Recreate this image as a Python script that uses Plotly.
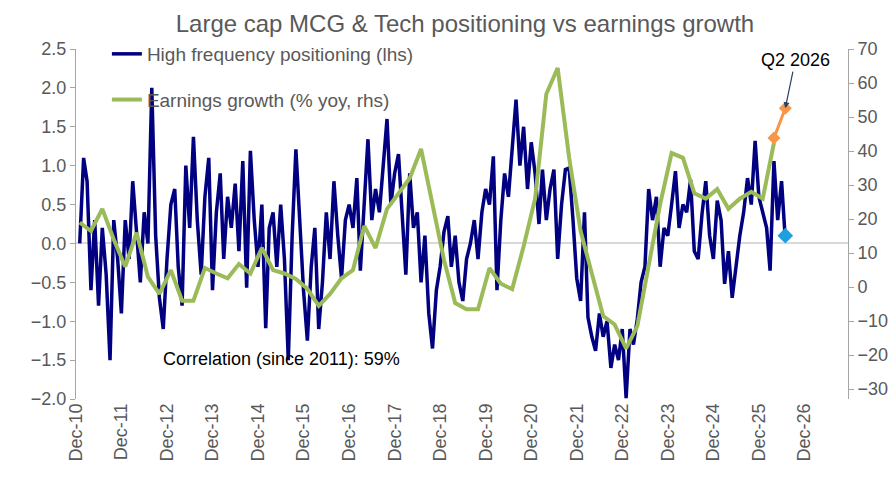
import pandas as pd
import plotly.graph_objects as go

# high frequency positioning, monthly, Dec-10 .. Jun-26
positioning = [
    0.0,
    1.1, 0.8, -0.6, 0.3, -0.8, 0.2, -0.4, -1.5, 0.3, -0.2, -0.9, 0.3,
    -0.2, 0.8, 0.2, -0.5, 0.4, 0.0, 2.0, 0.1, -0.7, -1.1, -0.2, 0.5,
    0.7, -0.3, -0.8, 1.0, 0.2, 1.37, 0.3, -0.4, 0.6, 1.1, -0.6, 0.4,
    0.9, -0.2, 0.6, 0.2, 0.77, -0.1, 1.06, -0.57, 1.19, 0.3, -0.3, 0.5,
    -1.09, 0.2, 0.4, -0.3, 0.5, -0.2, -1.5, 0.1, 1.21, 0.3, -0.6, -1.25,
    -0.3, 0.2, -1.1, -0.5, 0.4, -0.2, 0.8, 0.1, -0.45, 0.3, 0.5, 0.2,
    0.84, -0.35, 0.6, 1.34, 0.3, 0.7, 0.4, 1.0, 1.6, 0.5, 0.9, 1.15,
    0.3, -0.4, 0.9, 0.2, 0.4, -0.5, 0.1, -0.9, -1.35, -0.6, -0.3, 0.15,
    0.35, -0.3, 0.1, -0.5, -0.74, -0.2, 0.0, 0.3, -0.2, 0.4, 0.7, 0.5,
    1.12, -0.6, 0.3, 0.9, 0.6, 1.2, 1.85, 1.0, 1.5, 0.7, 1.3, 0.9,
    0.25, 0.95, 0.3, 0.7, 0.95, -0.2, 0.5, 0.95, 0.97, 0.3, -0.45, -0.74,
    0.4, -0.95, -1.2, -1.38, -0.9, -1.2, -1.0, -1.6, -1.3, -1.5, -1.1, -1.99,
    -1.1, -1.3, -0.97, -0.5, -0.3, 0.7, 0.3, 0.6, -0.3, 0.2, 0.1, 0.5,
    0.93, 0.2, 0.5, 0.4, 0.82, -0.1, -0.2, 0.38, 0.8, 0.1, -0.2, 0.55,
    0.3, -0.52, -0.1, -0.7, -0.3, 0.1, 0.4, 0.84, 0.5, 1.32, 0.6, 0.4,
    0.2, -0.35, 1.06, 0.3, 0.8, 0.05,
]
pos_dates = pd.date_range("2010-12-31", periods=len(positioning), freq="ME")

# earnings growth, % yoy, quarterly Dec-10 .. Dec-25
earnings = [
    19, 16.5, 23, 14, 6, 16, 3, -2, 5, -4, -4, 5.6, 4, 2.6, 6.8, 4,
    11.5, 5, 4, 2.4, -0.5, -5.5, -2, 2.6, 5, 18, 11.5, 23, 27.5, 32, 40.6, 24,
    8, -4.7, -6.5, -6.5, 5.6, 1, -0.6, 12, 26, 56.8, 64.4, 38, 16.5, 4, -8.5, -11,
    -18, -11.5, 7, 24.4, 39.4, 38, 27.6, 26, 28.8, 23, 26, 28, 26, 42.4,
]
earn_dates = pd.date_range("2010-12-31", periods=len(earnings), freq="QE")

# forecasts
fcst_dates = ["2026-03-31", "2026-06-30"]
fcst_values = [43.8, 52.6]
latest_date = ["2026-06-30"]
latest_value = [0.1]

grey = "#595959"
fig = go.Figure()

fig.add_trace(go.Scatter(x=pos_dates, y=positioning, mode="lines",
                         name="High frequency positioning (lhs)", legendgroup="a",
                         line=dict(color="#000080", width=3.5)))
fig.add_trace(go.Scatter(x=earn_dates, y=earnings, mode="lines", yaxis="y2",
                         name="Earnings growth (% yoy, rhs)", legendgroup="b",
                         line=dict(color="#9bbb59", width=4)))
fig.add_trace(go.Scatter(x=fcst_dates, y=fcst_values, mode="lines+markers", yaxis="y2",
                         showlegend=False, line=dict(color="#f79646", width=3),
                         marker=dict(symbol="diamond", size=10, color="#f79646")))
fig.add_trace(go.Scatter(x=latest_date, y=latest_value, mode="markers",
                         showlegend=False,
                         marker=dict(symbol="diamond", size=12, color="#1ba1e2")))

fig.add_annotation(x="2026-06-30", y=52.6, yref="y2", text="Q2 2026",
                   showarrow=True, arrowhead=2, arrowsize=1, arrowwidth=1.2,
                   ax=10, ay=-48, font=dict(size=18, color="black"))
fig.add_annotation(x=0.11, y=0.08, xref="paper", yref="paper", xanchor="left",
                   text="Correlation (since 2011): 59%", showarrow=False,
                   font=dict(size=18, color="black"))

fig.update_layout(
    width=896, height=497,
    margin=dict(l=68, r=56, t=41, b=106),
    paper_bgcolor="white", plot_bgcolor="white",
    font=dict(family="Liberation Sans, Arial", color=grey, size=18),
    title=dict(text="Large cap MCG & Tech positioning vs earnings growth",
               x=0.51, xanchor="center", y=0.985, yanchor="top",
               font=dict(size=24, color=grey)),
    legend=dict(x=0.04, y=1.04, xanchor="left", yanchor="top",
                bgcolor="rgba(0,0,0,0)", font=dict(size=19, color=grey),
                tracegroupgap=18),
    xaxis=dict(type="date", range=["2010-12-01", "2027-11-15"],
               tickvals=pd.date_range("2010-12-01", periods=17, freq="12MS"),
               tickformat="%b-%y", tickangle=-90, showgrid=False,
               showline=False, ticks="", tickfont=dict(size=18, color=grey)),
    yaxis=dict(range=[-2.0, 2.5], dtick=0.5, tickformat=".1f", showgrid=False,
               zeroline=True, zerolinecolor="#d9d9d9", zerolinewidth=1.5,
               showline=True, linecolor="#a6a6a6", ticks="outside",
               tickcolor="#a6a6a6", ticklen=5),
    yaxis2=dict(range=[-32.9, 70], tickvals=list(range(-30, 71, 10)),
                overlaying="y", side="right", showgrid=False, zeroline=False,
                showline=True, linecolor="#a6a6a6", ticks="outside",
                tickcolor="#a6a6a6", ticklen=5),
)

fig.write_html("out.html")
